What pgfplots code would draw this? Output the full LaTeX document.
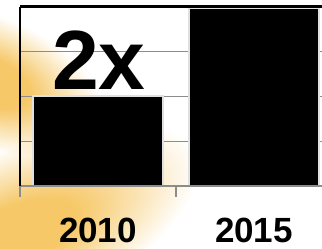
\documentclass[border=0pt]{standalone}
\usepackage{pgfplots}
\pgfplotsset{compat=1.18}
\usepackage{fontspec}
\setmainfont{Liberation Sans}
\definecolor{gold}{RGB}{246,200,104}
\definecolor{gridgray}{RGB}{140,140,140}
\pgfdeclareradialshading{glow}{\pgfpoint{0bp}{0bp}}{color(0bp)=(gold); color(9bp)=(gold); color(25bp)=(white); color(50bp)=(white)}
\begin{document}
\begin{tikzpicture}[x=1pt,y=1pt]
\useasboundingbox (0,0) rectangle (322,249);
\begin{scope}[blend mode=multiply]
\begin{scope}[transform canvas={shift={(-12,168)}, rotate=-22}]
\shade[shading=glow] (0,0) ellipse [x radius=120, y radius=65];
\end{scope}
\begin{scope}[transform canvas={shift={(5,8)}, rotate=25}]
\shade[shading=glow] (0,0) ellipse [x radius=210, y radius=85];
\end{scope}
\end{scope}
\begin{axis}[
  at={(20pt,63pt)}, anchor=south west,
  scale only axis, width=302pt, height=179pt,
  xmin=-0.5, xmax=1.436, ymin=0, ymax=4,
  axis line style={draw=none},
  ytick={1,2,3}, yticklabels={}, ymajorgrids,
  major grid style={gridgray, line width=1.4pt},
  major tick length=0pt,
  xtick pos=bottom, ytick pos=left,
  xtick={0,1}, xticklabels={2010,2015},
  minor xtick={-0.5,0.5},
  minor x tick style={gridgray, line width=1.4pt},
  minor tick length=11pt, tick align=outside,
  xticklabel style={font=\fontsize{35}{35}\selectfont\bfseries, anchor=base, inner sep=0pt, yshift=-56.5pt},
  ybar, bar width=130pt, bar shift=0pt,
  clip=false,
]
\addplot[fill=black, draw=black!12, line width=2pt] coordinates {(0,2) (1,3.98)};
\draw[gridgray, line width=1.6pt] (rel axis cs:0,0) -- (rel axis cs:1,0);
\draw[black, line width=2pt] (rel axis cs:0,0) -- (rel axis cs:0,1);
\draw[black, line width=3pt] (rel axis cs:0,1) -- (rel axis cs:1,1);
\end{axis}
\node[anchor=base west, font=\fontsize{84}{84}\selectfont\bfseries, inner sep=0pt] at (52,159) {2x};
\end{tikzpicture}
\end{document}
